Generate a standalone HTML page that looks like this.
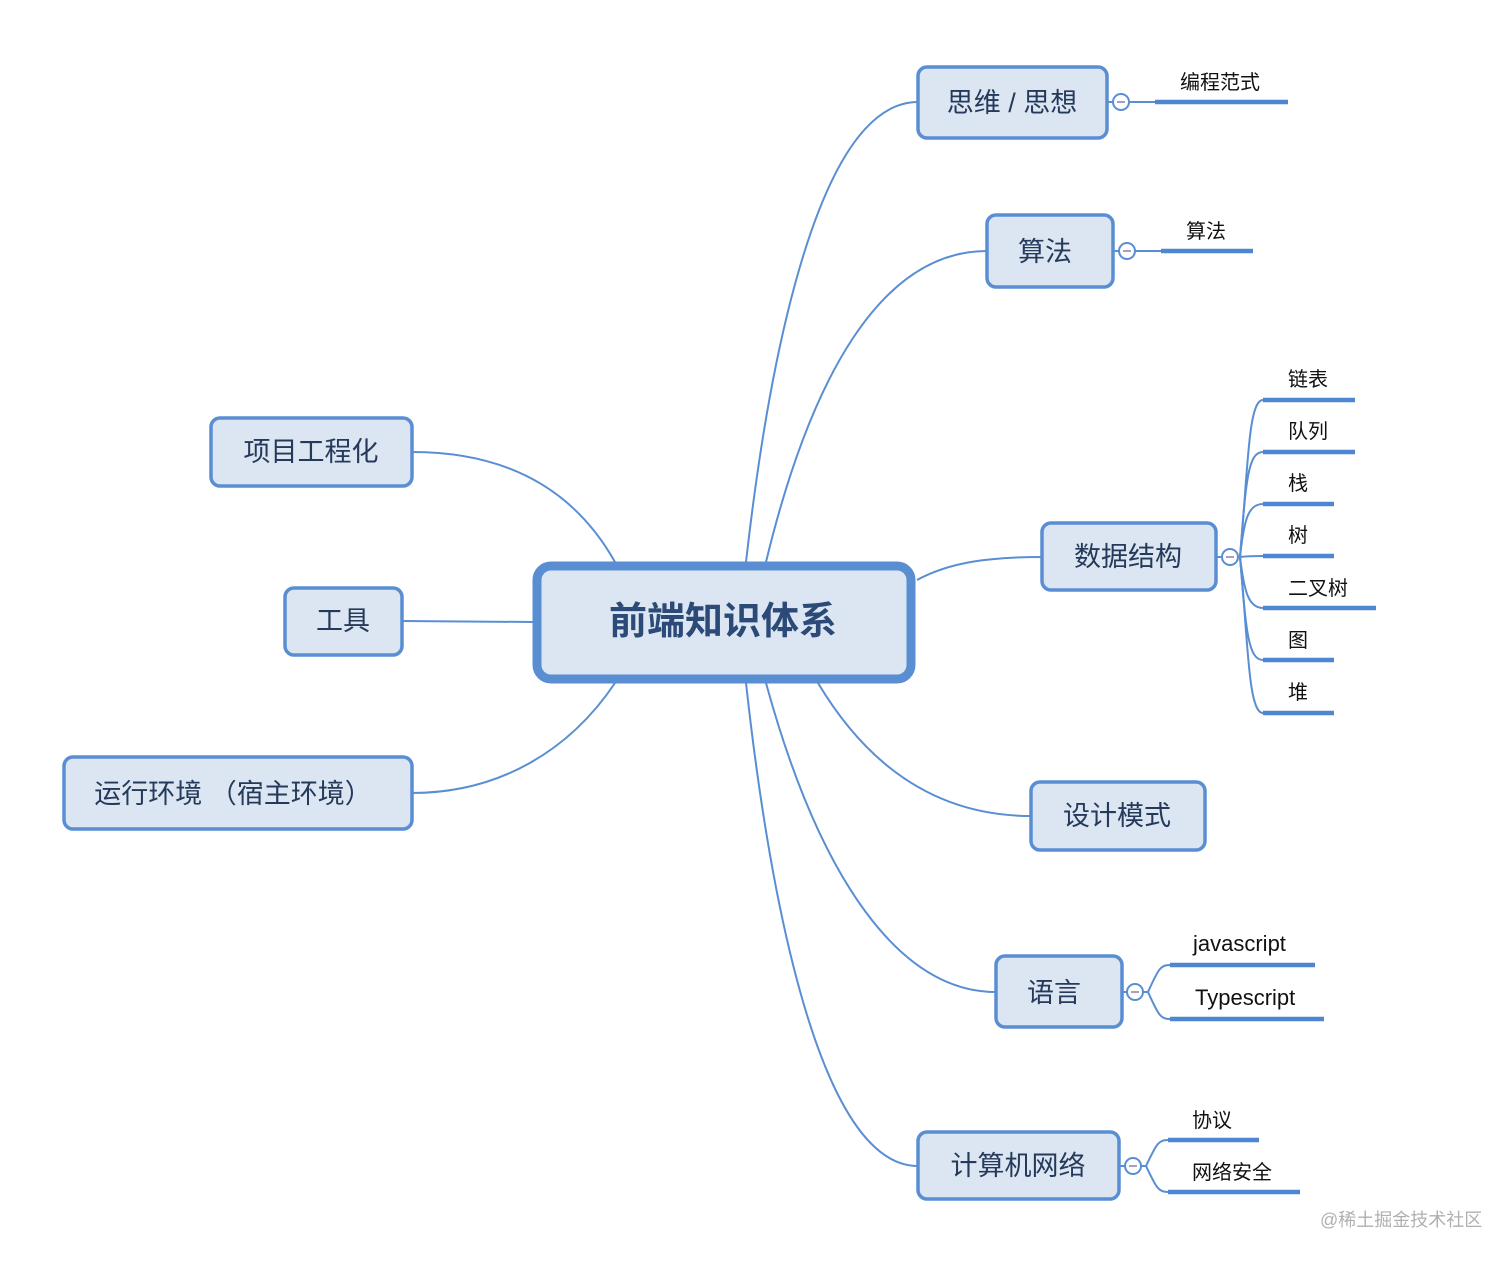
<!DOCTYPE html>
<html><head><meta charset="utf-8"><style>
html,body{margin:0;padding:0;background:#fff;}
svg{display:block;}
text{font-family:"Liberation Sans","Noto Sans CJK SC",sans-serif;}
.n{fill:#dce6f2;stroke:#5a8ed3;stroke-width:3.5;}
.t{fill:#253a5a;font-size:27px;text-anchor:middle;dominant-baseline:central;}
.c{fill:none;stroke:#5a8ed3;stroke-width:2;}
.l{stroke:#4f86d0;stroke-width:4.5;}
.lt{fill:#111;font-size:20px;}
.le{fill:#111;font-size:22px;}
.ci{fill:#fff;stroke:#5a8ed3;stroke-width:2;}
</style></head><body>
<svg width="1512" height="1261" viewBox="0 0 1512 1261" xmlns="http://www.w3.org/2000/svg">
<path class="c" d="M746,562 C770,350 820,102 918,102"/>
<path class="c" d="M766,562 C810,380 880,251 987,251"/>
<path class="c" d="M917,580 C950,562 990,557 1042,557"/>
<path class="c" d="M818,683 C870,770 940,816 1031,816"/>
<path class="c" d="M766,683 C820,880 900,992 996,992"/>
<path class="c" d="M746,683 C770,900 820,1166 918,1166"/>
<path class="c" d="M615,562 C580,500 520,452 412,452"/>
<path class="c" d="M533,622 L402,621"/>
<path class="c" d="M615,683 C570,750 500,793 412,793"/>
<path class="c" d="M1107,102 H1155"/>
<path class="c" d="M1113,251 H1161"/>
<g class="c">
<path d="M1216,557 H1240"/>
<path d="M1240,557 C1248,470 1248,400 1263,400"/>
<path d="M1240,557 C1246,480 1248,452 1263,452"/>
<path d="M1240,557 C1244,520 1248,504 1263,504"/>
<path d="M1240,557 C1248,556 1255,556 1263,556"/>
<path d="M1240,557 C1244,590 1248,608 1263,608"/>
<path d="M1240,557 C1246,630 1248,660 1263,660"/>
<path d="M1240,557 C1248,640 1248,713 1263,713"/>
<path d="M1122,992 H1148 C1158,970 1160,965 1170,965"/>
<path d="M1148,992 C1158,1014 1160,1019 1170,1019"/>
<path d="M1119,1166 H1146 C1156,1145 1158,1140 1168,1140"/>
<path d="M1146,1166 C1156,1187 1158,1192 1168,1192"/>
</g>
<line class="l" x1="1155" y1="102" x2="1288" y2="102"/><text class="lt" x="1180" y="89">编程范式</text>
<line class="l" x1="1161" y1="251" x2="1253" y2="251"/><text class="lt" x="1186" y="238">算法</text>
<line class="l" x1="1263" y1="400" x2="1355" y2="400"/><text class="lt" x="1288" y="386">链表</text>
<line class="l" x1="1263" y1="452" x2="1355" y2="452"/><text class="lt" x="1288" y="438">队列</text>
<line class="l" x1="1263" y1="504" x2="1334" y2="504"/><text class="lt" x="1288" y="490">栈</text>
<line class="l" x1="1263" y1="556" x2="1334" y2="556"/><text class="lt" x="1288" y="542">树</text>
<line class="l" x1="1263" y1="608" x2="1376" y2="608"/><text class="lt" x="1288" y="595">二叉树</text>
<line class="l" x1="1263" y1="660" x2="1334" y2="660"/><text class="lt" x="1288" y="647">图</text>
<line class="l" x1="1263" y1="713" x2="1334" y2="713"/><text class="lt" x="1288" y="699">堆</text>
<line class="l" x1="1170" y1="965" x2="1315" y2="965"/><text class="le" x="1193" y="951">javascript</text>
<line class="l" x1="1170" y1="1019" x2="1324" y2="1019"/><text class="le" x="1195" y="1005">Typescript</text>
<line class="l" x1="1168" y1="1140" x2="1259" y2="1140"/><text class="lt" x="1192" y="1127">协议</text>
<line class="l" x1="1168" y1="1192" x2="1300" y2="1192"/><text class="lt" x="1192" y="1179">网络安全</text>
<g>
<circle class="ci" cx="1121" cy="102" r="8"/><line x1="1117" y1="102" x2="1125" y2="102" stroke="#8a7fa8" stroke-width="1.5"/>
<circle class="ci" cx="1127" cy="251" r="8"/><line x1="1123" y1="251" x2="1131" y2="251" stroke="#8a7fa8" stroke-width="1.5"/>
<circle class="ci" cx="1230" cy="557" r="8"/><line x1="1226" y1="557" x2="1234" y2="557" stroke="#8a7fa8" stroke-width="1.5"/>
<circle class="ci" cx="1135" cy="992" r="8"/><line x1="1131" y1="992" x2="1139" y2="992" stroke="#8a7fa8" stroke-width="1.5"/>
<circle class="ci" cx="1133" cy="1166" r="8"/><line x1="1129" y1="1166" x2="1137" y2="1166" stroke="#8a7fa8" stroke-width="1.5"/>
</g>
<rect x="537" y="566" width="374" height="113" rx="14" fill="#dce6f2" stroke="#5a8ed3" stroke-width="9"/>
<text x="723" y="622" text-anchor="middle" dominant-baseline="central" font-size="38" font-weight="bold" fill="#2b4a78">前端知识体系</text>
<rect class="n" x="918" y="67" width="189" height="71" rx="9"/><text class="t" x="1012" y="103">思维 / 思想</text>
<rect class="n" x="987" y="215" width="126" height="72" rx="9"/><text class="t" x="1045" y="252">算法</text>
<rect class="n" x="1042" y="523" width="174" height="67" rx="9"/><text class="t" x="1128" y="557">数据结构</text>
<rect class="n" x="1031" y="782" width="174" height="68" rx="9"/><text class="t" x="1117" y="816">设计模式</text>
<rect class="n" x="996" y="956" width="126" height="71" rx="9"/><text class="t" x="1054" y="993">语言</text>
<rect class="n" x="918" y="1132" width="201" height="67" rx="9"/><text class="t" x="1018" y="1166">计算机网络</text>
<rect class="n" x="211" y="418" width="201" height="68" rx="9"/><text class="t" x="311" y="452">项目工程化</text>
<rect class="n" x="285" y="588" width="117" height="67" rx="9"/><text class="t" x="343" y="621">工具</text>
<rect class="n" x="64" y="757" width="348" height="72" rx="9"/><text class="t" x="233" y="794">运行环境 （宿主环境）</text>
<text x="1320" y="1226" font-size="18" fill="#b0b0b0">@稀土掘金技术社区</text>
</svg>
</body></html>
